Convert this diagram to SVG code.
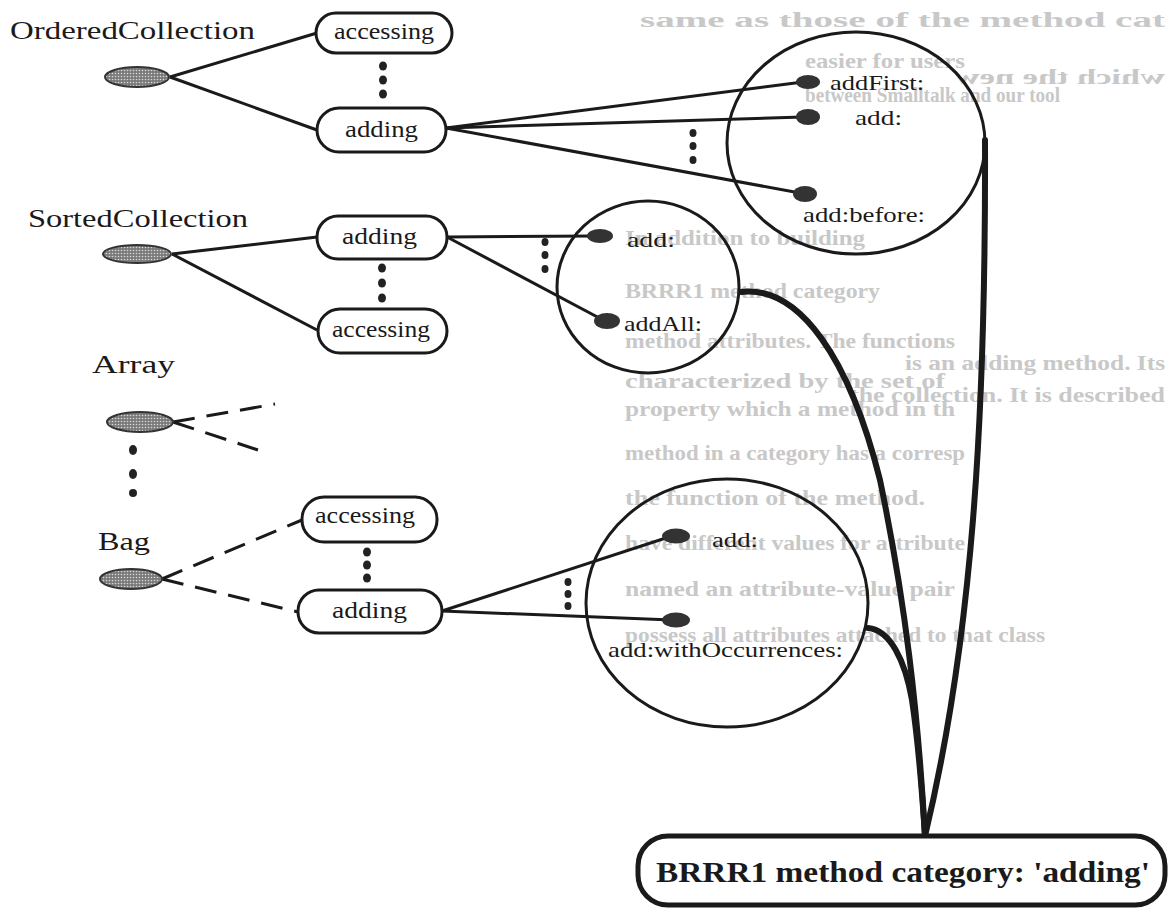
<svg xmlns="http://www.w3.org/2000/svg" width="1171" height="923" viewBox="0 0 1171 923">
  <defs>
    <pattern id="stipple" width="3" height="3" patternUnits="userSpaceOnUse">
      <rect width="3" height="3" fill="#7a7a7a"/>
      <circle cx="1.5" cy="1.5" r="0.8" fill="#d8d8d8"/>
    </pattern>
    <style>
      .cls { font-family: "Liberation Serif", "DejaVu Serif", serif; font-size: 25px; fill: #1a1a1a; }
      .cat { font-family: "Liberation Serif", "DejaVu Serif", serif; font-size: 24px; fill: #1a1a1a; }
      .meth { font-family: "Liberation Serif", "DejaVu Serif", serif; font-size: 22px; fill: #1a1a1a; }
      .box { fill: #fff; stroke: #1a1a1a; stroke-width: 3; }
      .obj { fill: url(#stipple); stroke: #333; stroke-width: 2; }
      .sel { fill: #333; }
      .dot { fill: #222; }
      .ring { fill: none; stroke: #1a1a1a; stroke-width: 3; }
      .link { fill: none; stroke: #1a1a1a; stroke-width: 3; }
      .dash { fill: none; stroke: #1a1a1a; stroke-width: 3; stroke-dasharray: 22 12; }
      .heavy { fill: none; stroke: #1a1a1a; stroke-width: 6; stroke-linecap: round; }
      .ghost { font-family: "Liberation Serif", "DejaVu Serif", serif; font-size: 21px; fill: #c8c8c8; font-weight: bold; }
    </style>
  </defs>
  <rect width="1171" height="923" fill="#fff"/>

  <!-- faint print showing through the page -->
  <g id="ghost-text">
    <text class="ghost" x="640" y="27" textLength="525" lengthAdjust="spacingAndGlyphs">same as those of the method cat</text>
    <text class="ghost" x="805" y="68" textLength="160" lengthAdjust="spacingAndGlyphs">easier for users</text>
    <text class="ghost" transform="scale(-1,1)" x="-1165" y="84" textLength="210" lengthAdjust="spacingAndGlyphs">which the new</text>
    <text class="ghost" x="805" y="102" textLength="255" lengthAdjust="spacingAndGlyphs">between Smalltalk and our tool</text>
    <text class="ghost" x="625" y="245" textLength="240" lengthAdjust="spacingAndGlyphs">In addition to building</text>
    <text class="ghost" x="625" y="298" textLength="255" lengthAdjust="spacingAndGlyphs">BRRR1 method category</text>
    <text class="ghost" x="625" y="348" textLength="330" lengthAdjust="spacingAndGlyphs">method attributes. The functions</text>
    <text class="ghost" x="905" y="370" textLength="260" lengthAdjust="spacingAndGlyphs">is an adding method. Its</text>
    <text class="ghost" x="625" y="388" textLength="320" lengthAdjust="spacingAndGlyphs">characterized by the set of</text>
    <text class="ghost" x="850" y="402" textLength="315" lengthAdjust="spacingAndGlyphs">the collection. It is described</text>
    <text class="ghost" x="625" y="416" textLength="330" lengthAdjust="spacingAndGlyphs">property which a method in th</text>
    <text class="ghost" x="625" y="460" textLength="340" lengthAdjust="spacingAndGlyphs">method in a category has a corresp</text>
    <text class="ghost" x="625" y="505" textLength="300" lengthAdjust="spacingAndGlyphs">the function of the method.</text>
    <text class="ghost" x="625" y="550" textLength="340" lengthAdjust="spacingAndGlyphs">have different values for attribute</text>
    <text class="ghost" x="625" y="596" textLength="330" lengthAdjust="spacingAndGlyphs">named an attribute-value pair</text>
    <text class="ghost" x="625" y="642" textLength="420" lengthAdjust="spacingAndGlyphs">possess all attributes attached to that class</text>
  </g>

  <!-- connectors -->
  <g id="connectors">
    <!-- OrderedCollection -->
    <line class="link" x1="170" y1="77" x2="317" y2="33"/>
    <line class="link" x1="170" y1="77" x2="317" y2="130"/>
    <line class="link" x1="446" y1="128" x2="803" y2="82"/>
    <line class="link" x1="446" y1="128" x2="803" y2="117"/>
    <line class="link" x1="446" y1="128" x2="800" y2="193"/>
    <!-- SortedCollection -->
    <line class="link" x1="172" y1="254" x2="317" y2="237"/>
    <line class="link" x1="172" y1="254" x2="317" y2="330"/>
    <line class="link" x1="447" y1="237" x2="595" y2="236"/>
    <line class="link" x1="447" y1="237" x2="603" y2="320"/>
    <!-- Array -->
    <path class="dash" d="M173,422 L275,404"/>
    <path class="dash" d="M173,422 L258,450"/>
    <!-- Bag -->
    <path class="dash" d="M162,579 L302,520"/>
    <path class="dash" d="M162,579 L298,612"/>
    <line class="link" x1="442" y1="611" x2="672" y2="536"/>
    <line class="link" x1="442" y1="611" x2="672" y2="620"/>
    <!-- selector groups into the shared category -->
    <path class="heavy" d="M985,140 C986,420 972,640 925,836"/>
    <path class="heavy" d="M741,292 C800,285 850,360 880,480 C905,600 918,710 925,836"/>
    <path class="heavy" d="M868,628 C890,630 905,660 912,700 C918,740 922,790 925,836"/>
  </g>

  <!-- OrderedCollection -->
  <g id="ordered-collection">
    <text class="cls" x="10" y="39" textLength="245" lengthAdjust="spacingAndGlyphs">OrderedCollection</text>
    <ellipse class="obj" cx="137" cy="77" rx="32" ry="10"/>
    <rect class="box" x="316" y="13" width="136" height="40" rx="20"/>
    <text class="cat" x="334" y="39" textLength="100" lengthAdjust="spacingAndGlyphs">accessing</text>
    <ellipse class="dot" cx="383" cy="66" rx="4" ry="4.5"/>
    <ellipse class="dot" cx="383" cy="80" rx="4" ry="4.5"/>
    <ellipse class="dot" cx="383" cy="94" rx="4" ry="4.5"/>
    <rect class="box" x="317" y="108" width="129" height="44" rx="22"/>
    <text class="cat" x="345" y="137" textLength="73" lengthAdjust="spacingAndGlyphs">adding</text>
  </g>
  <g id="ordered-adding-methods">
    <ellipse class="ring" cx="856" cy="143" rx="129" ry="111"/>
    <ellipse class="sel" cx="808" cy="82" rx="12" ry="7"/>
    <ellipse class="sel" cx="808" cy="117" rx="12" ry="8"/>
    <ellipse class="sel" cx="805" cy="194" rx="12" ry="8"/>
    <ellipse class="dot" cx="693" cy="133" rx="3.5" ry="4"/>
    <ellipse class="dot" cx="693" cy="146" rx="3.5" ry="4"/>
    <ellipse class="dot" cx="693" cy="160" rx="3.5" ry="4"/>
    <text class="meth" x="830" y="90" textLength="94" lengthAdjust="spacingAndGlyphs">addFirst:</text>
    <text class="meth" x="855" y="125" textLength="47" lengthAdjust="spacingAndGlyphs">add:</text>
    <text class="meth" x="803" y="222" textLength="122" lengthAdjust="spacingAndGlyphs">add:before:</text>
  </g>

  <!-- SortedCollection -->
  <g id="sorted-collection">
    <text class="cls" x="28" y="227" textLength="220" lengthAdjust="spacingAndGlyphs">SortedCollection</text>
    <ellipse class="obj" cx="137" cy="254" rx="34" ry="9"/>
    <rect class="box" x="317" y="216" width="130" height="43" rx="21"/>
    <text class="cat" x="342" y="244" textLength="75" lengthAdjust="spacingAndGlyphs">adding</text>
    <ellipse class="dot" cx="382" cy="268" rx="4" ry="4.5"/>
    <ellipse class="dot" cx="382" cy="283" rx="4" ry="4.5"/>
    <ellipse class="dot" cx="382" cy="298" rx="4" ry="4.5"/>
    <rect class="box" x="318" y="309" width="129" height="44" rx="22"/>
    <text class="cat" x="332" y="337" textLength="98" lengthAdjust="spacingAndGlyphs">accessing</text>
  </g>
  <g id="sorted-adding-methods">
    <ellipse class="ring" cx="648" cy="287" rx="91" ry="86"/>
    <ellipse class="sel" cx="600" cy="236" rx="13" ry="7"/>
    <ellipse class="sel" cx="607" cy="321" rx="13" ry="8"/>
    <ellipse class="dot" cx="545" cy="242" rx="3.5" ry="4"/>
    <ellipse class="dot" cx="545" cy="255" rx="3.5" ry="4"/>
    <ellipse class="dot" cx="545" cy="269" rx="3.5" ry="4"/>
    <text class="meth" x="627" y="247" textLength="48" lengthAdjust="spacingAndGlyphs">add:</text>
    <text class="meth" x="624" y="331" textLength="78" lengthAdjust="spacingAndGlyphs">addAll:</text>
  </g>

  <!-- Array -->
  <g id="array">
    <text class="cls" x="92" y="373" textLength="83" lengthAdjust="spacingAndGlyphs">Array</text>
    <ellipse class="obj" cx="140" cy="422" rx="33" ry="10"/>
  </g>
  <g id="more-classes">
    <ellipse class="dot" cx="133" cy="450" rx="4" ry="5"/>
    <ellipse class="dot" cx="133" cy="474" rx="4" ry="5"/>
    <ellipse class="dot" cx="133" cy="493" rx="4" ry="4"/>
  </g>

  <!-- Bag -->
  <g id="bag">
    <text class="cls" x="98" y="550" textLength="52" lengthAdjust="spacingAndGlyphs">Bag</text>
    <ellipse class="obj" cx="131" cy="579" rx="31" ry="10"/>
    <rect class="box" x="302" y="497" width="135" height="45" rx="22"/>
    <text class="cat" x="315" y="523" textLength="100" lengthAdjust="spacingAndGlyphs">accessing</text>
    <ellipse class="dot" cx="367" cy="552" rx="4" ry="4.5"/>
    <ellipse class="dot" cx="367" cy="565" rx="4" ry="4.5"/>
    <ellipse class="dot" cx="367" cy="578" rx="4" ry="4.5"/>
    <rect class="box" x="298" y="590" width="144" height="43" rx="21"/>
    <text class="cat" x="332" y="618" textLength="75" lengthAdjust="spacingAndGlyphs">adding</text>
  </g>
  <g id="bag-adding-methods">
    <ellipse class="ring" cx="727" cy="603" rx="141" ry="124"/>
    <ellipse class="sel" cx="676" cy="536" rx="14" ry="7.5"/>
    <ellipse class="sel" cx="676" cy="620" rx="14" ry="7.5"/>
    <ellipse class="dot" cx="568" cy="582" rx="3.5" ry="4"/>
    <ellipse class="dot" cx="568" cy="594" rx="3.5" ry="4"/>
    <ellipse class="dot" cx="568" cy="606" rx="3.5" ry="4"/>
    <text class="meth" x="712" y="547" textLength="46" lengthAdjust="spacingAndGlyphs">add:</text>
    <text class="meth" x="608" y="657" textLength="235" lengthAdjust="spacingAndGlyphs">add:withOccurrences:</text>
  </g>

  <!-- shared category -->
  <g id="brrr1-category">
    <rect x="638" y="836" width="527" height="69" rx="30" fill="#fff" stroke="#1a1a1a" stroke-width="5"/>
    <text x="656" y="882" textLength="494" lengthAdjust="spacingAndGlyphs" style="font-family: 'Liberation Serif', 'DejaVu Serif', serif; font-size: 29px; font-weight: bold; fill: #1a1a1a;">BRRR1 method category: 'adding'</text>
  </g>
</svg>
